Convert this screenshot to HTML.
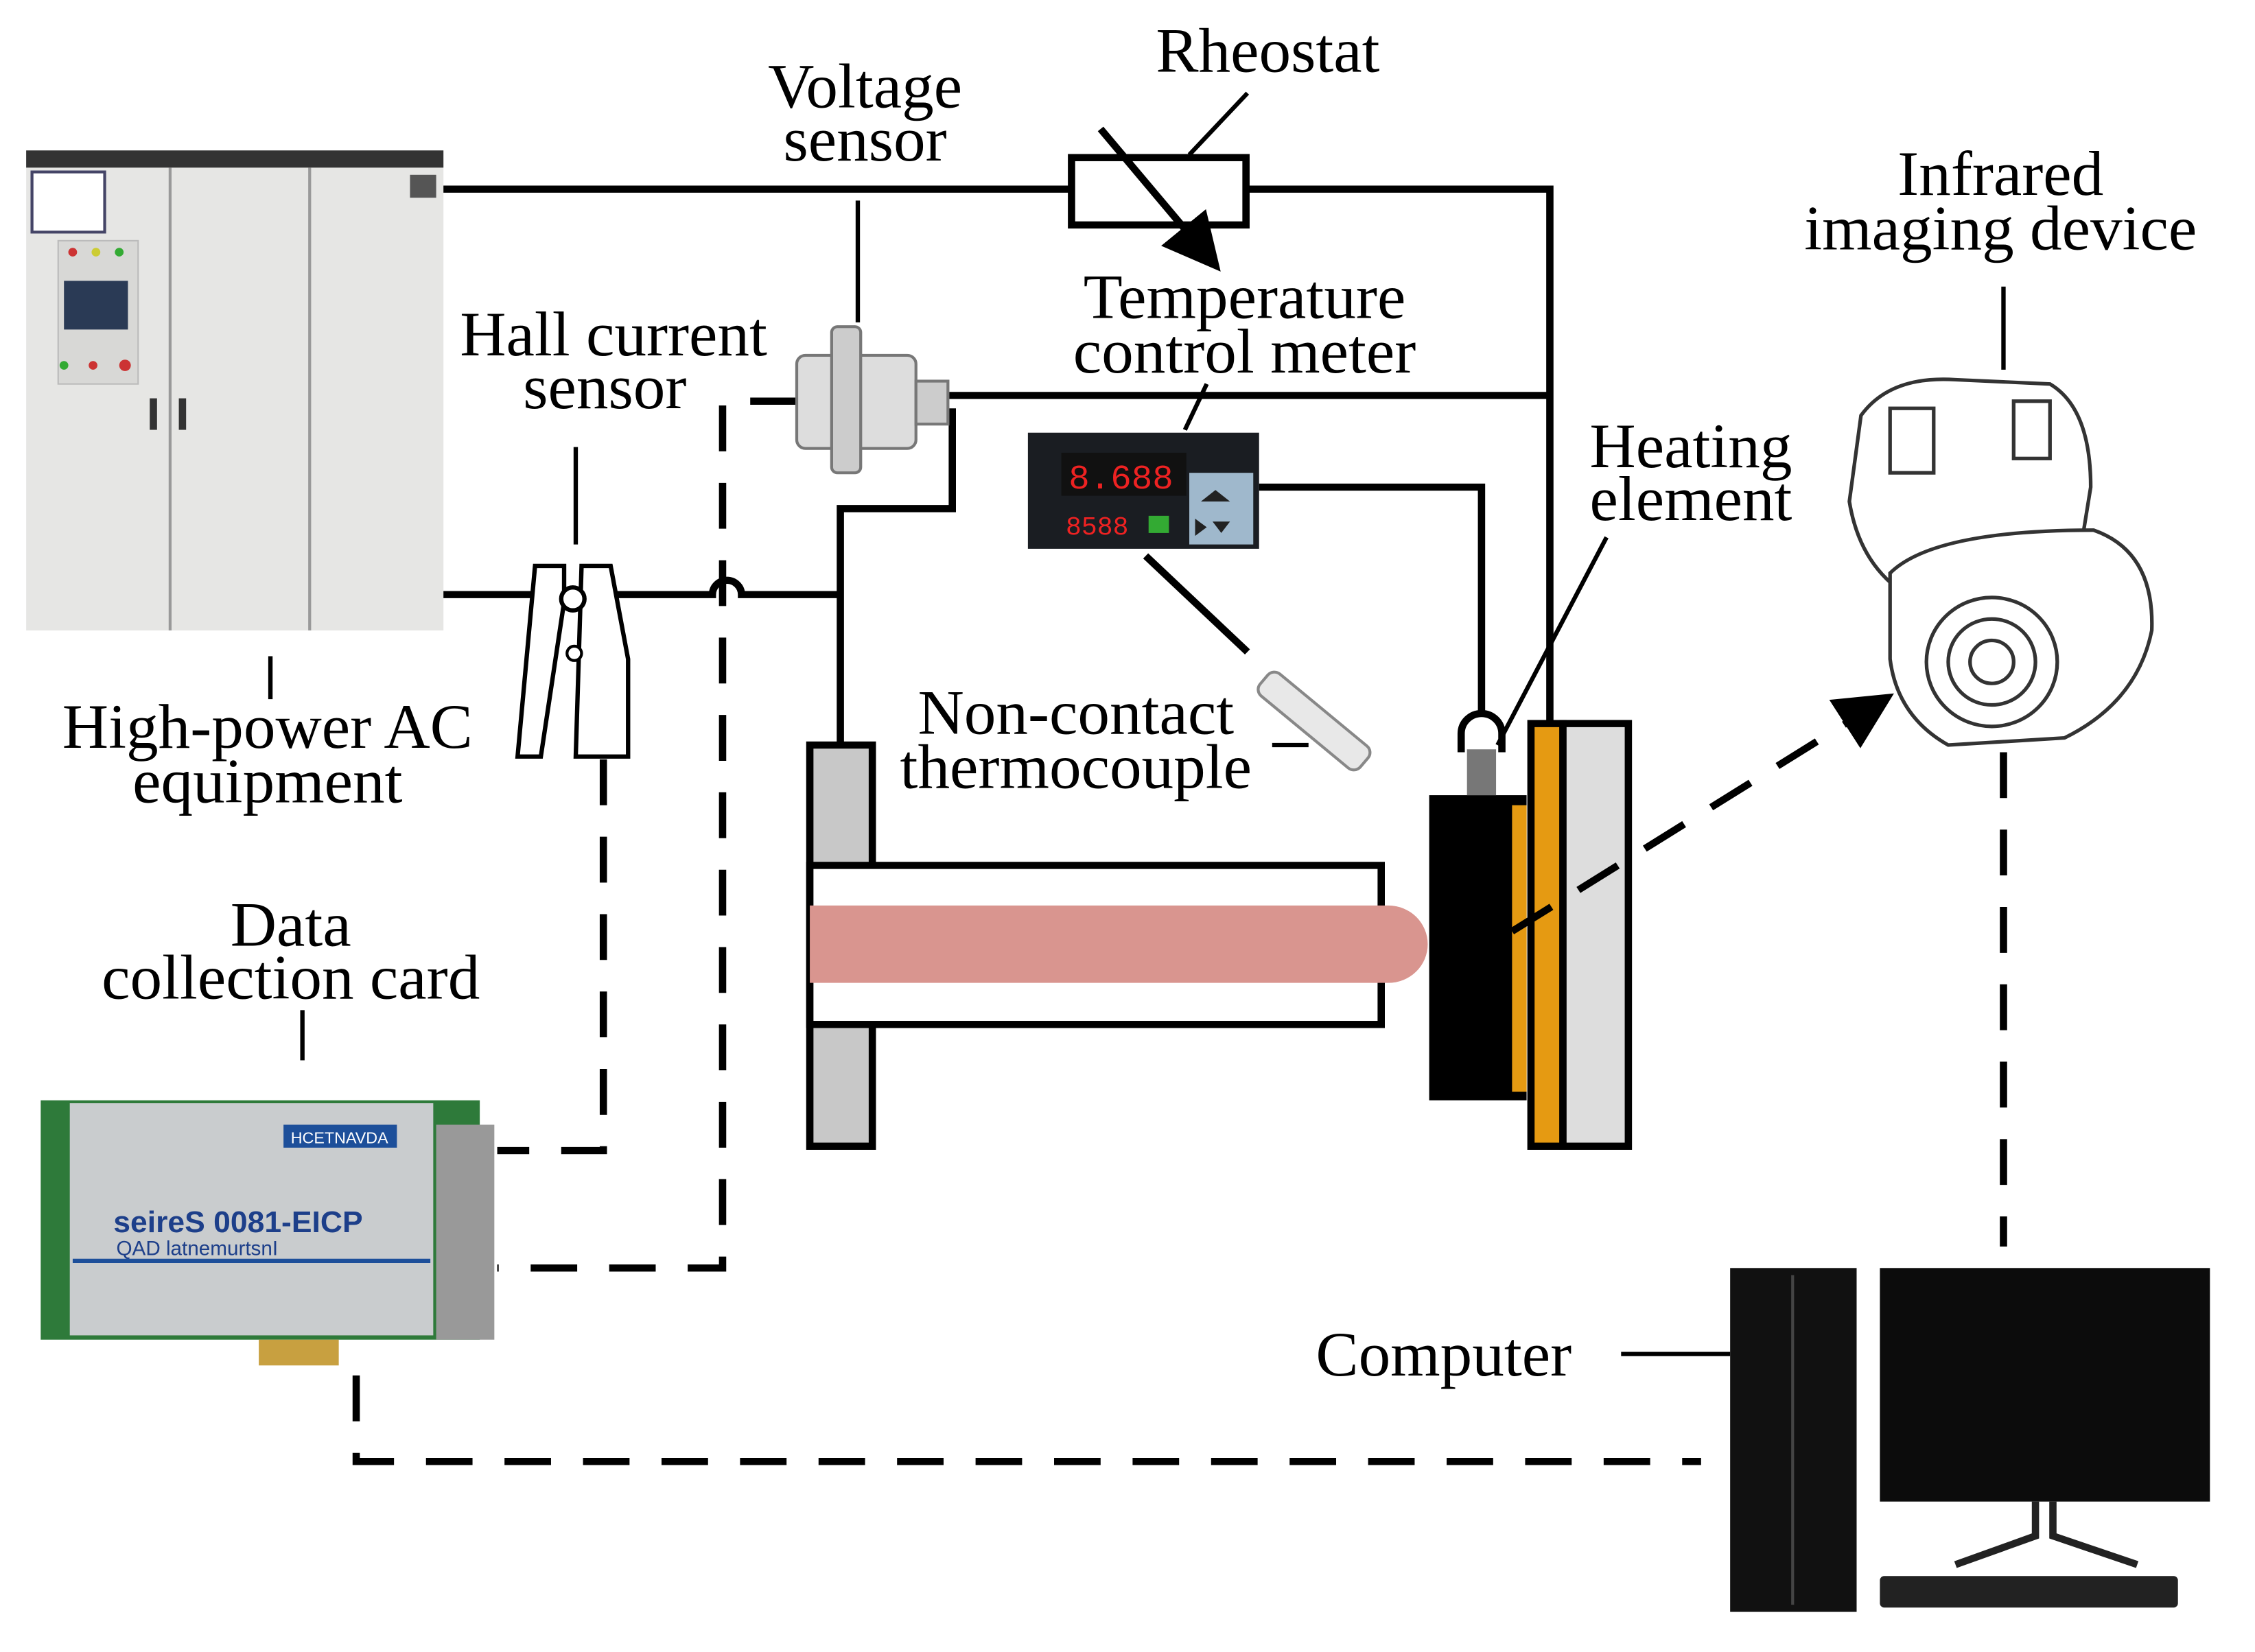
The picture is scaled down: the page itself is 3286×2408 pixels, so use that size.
<!DOCTYPE html>
<html><head><meta charset="utf-8"><style>
html,body{margin:0;padding:0;background:#fff;width:3286px;height:2408px;overflow:hidden}
svg{display:block}
text{font-family:"Liberation Serif",serif;font-size:44px;fill:#000}
</style></head><body>
<svg width="3286" height="2408" viewBox="0 0 1551 1153" preserveAspectRatio="none">
<defs><marker id="ah" markerWidth="8" markerHeight="8" refX="5" refY="4" orient="auto" markerUnits="strokeWidth"><path d="M0,0 L8,4 L0,8 z" fill="#000"/></marker></defs>
<!-- AC cabinet -->
<rect x="18" y="105" width="287" height="335" fill="#e6e6e4"/>
<rect x="18" y="105" width="287" height="12" fill="#333"/>
<line x1="117" y1="117" x2="117" y2="440" stroke="#999" stroke-width="2"/>
<line x1="213" y1="117" x2="213" y2="440" stroke="#999" stroke-width="2"/>
<rect x="22" y="120" width="50" height="42" fill="#fff" stroke="#446" stroke-width="2"/>
<rect x="40" y="168" width="55" height="100" fill="#d8d8d6" stroke="#bbb"/>
<rect x="44" y="196" width="44" height="34" fill="#2a3a55"/>
<circle cx="50" cy="176" r="3" fill="#c33"/><circle cx="66" cy="176" r="3" fill="#cc3"/><circle cx="82" cy="176" r="3" fill="#3a3"/>
<circle cx="44" cy="255" r="3" fill="#3a3"/><circle cx="64" cy="255" r="3" fill="#c33"/><circle cx="86" cy="255" r="4" fill="#c33"/>
<rect x="103" y="278" width="5" height="22" fill="#333"/><rect x="123" y="278" width="5" height="22" fill="#333"/>
<rect x="282" y="122" width="18" height="16" fill="#555"/>
<!-- wires -->
<g stroke="#000" stroke-width="5" fill="none">
<path d="M305,132 H737 M857,132 H1066 V505"/>
<rect x="737" y="110" width="120" height="47" fill="#fff"/>
<path d="M650,276 H1066"/>
<path d="M655,285 V355 H578 V520"/>
<path d="M305,415 H490 A10,10 0 0 1 510,415 H578"/>
<path d="M866,340 H1019 V500"/>
</g>
<line x1="757" y1="90" x2="830" y2="178" stroke="#000" stroke-width="5" marker-end="url(#ah)"/>
<g stroke="#000" stroke-width="3">
<line x1="818" y1="108" x2="858" y2="65"/>
<line x1="590" y1="140" x2="590" y2="225"/>
<line x1="815" y1="300" x2="830" y2="268"/>
<line x1="396" y1="312" x2="396" y2="380"/>
<line x1="186" y1="458" x2="186" y2="488"/>
<line x1="208" y1="705" x2="208" y2="740"/>
<line x1="1378" y1="200" x2="1378" y2="258"/>
<line x1="1105" y1="375" x2="1030" y2="520"/>
<line x1="1115" y1="945" x2="1190" y2="945"/>
<line x1="875" y1="520" x2="900" y2="520"/>
</g>
<line x1="788" y1="388" x2="858" y2="455" stroke="#000" stroke-width="5"/>
<!-- dashed -->
<g stroke="#000" stroke-width="5" fill="none" stroke-dasharray="32,22">
<path d="M415,530 V803 H342"/>
<path d="M548,280 H497 V885 H342"/>
<path d="M245,960 V1020 H1170"/>
<path d="M1378,525 V870"/>
</g>
<!-- voltage sensor -->
<rect x="548" y="248" width="82" height="65" rx="6" fill="#ddd" stroke="#777" stroke-width="2"/>
<rect x="572" y="228" width="20" height="102" rx="4" fill="#ccc" stroke="#777" stroke-width="2"/>
<rect x="630" y="266" width="22" height="30" fill="#ccc" stroke="#777" stroke-width="2"/>
<!-- hall clamp -->
<path d="M368,395 H388 V420 L372,528 H356 Z" fill="#fff" stroke="#000" stroke-width="3"/>
<path d="M400,395 H420 L432,460 V528 H396 Z" fill="#fff" stroke="#000" stroke-width="3"/>
<circle cx="394" cy="418" r="8" fill="#fff" stroke="#000" stroke-width="3"/>
<circle cx="395" cy="456" r="5" fill="#fff" stroke="#000" stroke-width="2"/>
<!-- meter -->
<rect x="707" y="302" width="159" height="81" fill="#1a1d22"/>
<rect x="730" y="316" width="86" height="30" fill="#111"/>
<text x="735" y="341" style="font-family:'Liberation Mono',monospace;font-size:24px;fill:#e22">8.688</text>
<text x="733" y="373" style="font-family:'Liberation Mono',monospace;font-size:18px;fill:#e22">8588</text>
<rect x="818" y="330" width="44" height="50" fill="#9fb8cc"/>
<path d="M826,350 L836,342 L846,350 Z M822,362 L830,368 L822,374 Z M834,364 L846,364 L840,372 Z" fill="#222"/>
<rect x="790" y="360" width="14" height="12" fill="#3a3"/>
<!-- thermocouple probe -->
<g transform="rotate(40 900 500)"><rect x="860" y="490" width="90" height="20" rx="6" fill="#e8e8e8" stroke="#888" stroke-width="2"/></g>
<!-- tube -->
<rect x="557" y="520" width="43" height="280" fill="#c8c8c8" stroke="#000" stroke-width="5"/>
<rect x="557" y="604" width="393" height="111" fill="#fff" stroke="#000" stroke-width="5"/>
<path d="M557,632 H955 A27,27 0 0 1 955,686 H557 Z" fill="#d9958f"/>
<!-- heating element -->
<rect x="983" y="555" width="67" height="213" fill="#000"/>
<rect x="1040" y="562" width="10" height="200" fill="#e59a12"/>
<rect x="1053" y="505" width="22" height="295" fill="#e59a12" stroke="#000" stroke-width="5"/>
<rect x="1075" y="505" width="45" height="295" fill="#ddd" stroke="#000" stroke-width="5"/>
<rect x="1009" y="523" width="20" height="32" fill="#777"/>
<path d="M1005,525 V512 A14,14 0 0 1 1033,512 V525" fill="none" stroke="#000" stroke-width="5"/>
<line x1="1040" y1="650" x2="1290" y2="492" stroke="#000" stroke-width="5" stroke-dasharray="32,22" marker-end="url(#ah)"/>
<!-- IR camera -->
<g fill="#fff" stroke="#333" stroke-width="2.5">
<path d="M1280,290 Q1300,262 1345,265 L1410,268 Q1438,285 1438,340 L1430,390 L1320,420 Q1280,400 1272,350 Z"/>
<path d="M1300,400 Q1330,370 1440,370 Q1482,385 1480,440 Q1470,490 1420,515 L1340,520 Q1305,500 1300,460 Z"/>
<circle cx="1370" cy="462" r="45"/><circle cx="1370" cy="462" r="30"/><circle cx="1370" cy="462" r="15"/>
<rect x="1300" y="285" width="30" height="45"/><rect x="1385" y="280" width="25" height="40"/>
</g>
<!-- computer -->
<rect x="1190" y="885" width="87" height="240" fill="#111"/>
<line x1="1233" y1="890" x2="1233" y2="1120" stroke="#444" stroke-width="2"/>
<rect x="1293" y="885" width="227" height="163" fill="#0c0c0c"/>
<path d="M1400,1048 V1072 L1345,1092 M1412,1048 V1072 L1470,1092" stroke="#222" stroke-width="5" fill="none"/>
<rect x="1293" y="1100" width="205" height="22" rx="3" fill="#222"/>
<!-- card -->
<rect x="28" y="768" width="302" height="167" fill="#2e7a3a"/>
<rect x="48" y="770" width="250" height="162" fill="#c9ccce"/>
<rect x="195" y="785" width="78" height="16" fill="#1d4f9a"/>
<text x="200" y="798" style="font-family:'Liberation Sans',sans-serif;font-size:11px;fill:#fff">HCETNAVDA</text>
<text x="78" y="860" style="font-family:'Liberation Sans',sans-serif;font-size:21px;font-weight:bold;fill:#1d3f8a">seireS 0081-EICP</text>
<text x="80" y="876" style="font-family:'Liberation Sans',sans-serif;font-size:14px;fill:#1d3f8a">QAD latnemurtsnI</text>
<line x1="50" y1="880" x2="296" y2="880" stroke="#1d4f9a" stroke-width="3"/>
<rect x="178" y="935" width="55" height="18" fill="#c8a040"/>
<rect x="300" y="785" width="40" height="150" fill="#999"/>
<!-- labels -->
<text x="872" y="50" text-anchor="middle">Rheostat</text>
<text x="595" y="75" text-anchor="middle">Voltage</text>
<text x="595" y="112" text-anchor="middle">sensor</text>
<text x="856" y="222" text-anchor="middle">Temperature</text>
<text x="856" y="260" text-anchor="middle">control meter</text>
<text x="422" y="248" text-anchor="middle">Hall current</text>
<text x="416" y="285" text-anchor="middle">sensor</text>
<text x="1376" y="136" text-anchor="middle">Infrared</text>
<text x="1376" y="174" text-anchor="middle">imaging device</text>
<text x="1163" y="326" text-anchor="middle">Heating</text>
<text x="1163" y="363" text-anchor="middle">element</text>
<text x="740" y="512" text-anchor="middle">Non-contact</text>
<text x="740" y="550" text-anchor="middle">thermocouple</text>
<text x="184" y="522" text-anchor="middle">High-power AC</text>
<text x="184" y="560" text-anchor="middle">equipment</text>
<text x="200" y="660" text-anchor="middle">Data</text>
<text x="200" y="697" text-anchor="middle">collection card</text>
<text x="993" y="960" text-anchor="middle">Computer</text>
</svg>
</body></html>
